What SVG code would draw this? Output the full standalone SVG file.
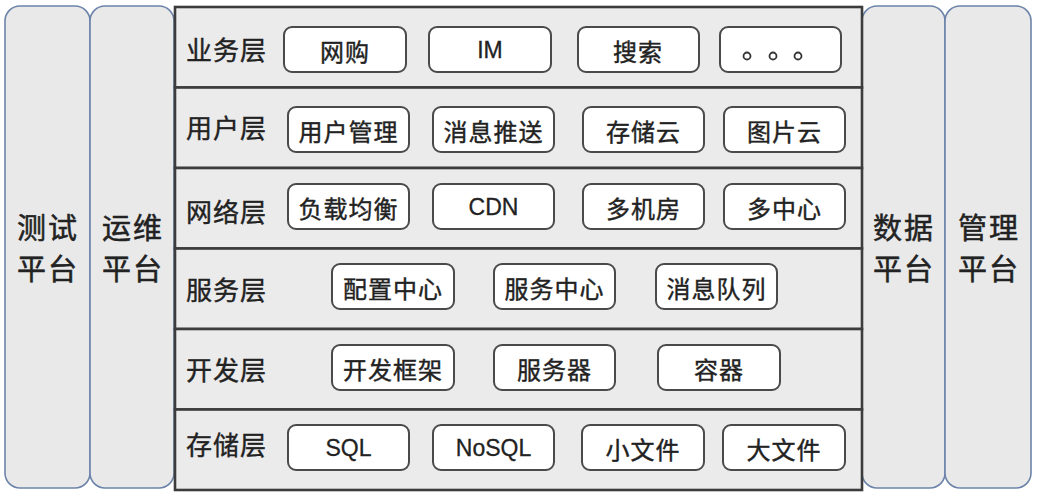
<svg xmlns="http://www.w3.org/2000/svg" width="1038" height="494" viewBox="0 0 1038 494">
<style>
.pillar{fill:#e9e9ea;stroke:#6d84aa;stroke-width:1.6}
.layer{fill:#ebebeb;stroke:#3c3c3c;stroke-width:2.6}
.box{fill:#ffffff;stroke:#4a4a4a;stroke-width:2}
.pt{font-family:"Noto Sans CJK SC","Liberation Sans",sans-serif;font-size:29px;fill:#222;stroke:#222;stroke-width:0.5;text-anchor:middle;letter-spacing:2px}
.lt{font-family:"Noto Sans CJK SC","Liberation Sans",sans-serif;font-size:26px;fill:#222;stroke:#222;stroke-width:0.4;letter-spacing:1px}
.bt{font-family:"Noto Sans CJK SC","Liberation Sans",sans-serif;font-size:24px;fill:#222;stroke:#222;stroke-width:0.4;text-anchor:middle;dominant-baseline:central;letter-spacing:1px}
.et{font-family:"Liberation Sans",sans-serif;font-size:23px;fill:#222;stroke:#222;stroke-width:0.3;text-anchor:middle;dominant-baseline:central}
.dot{fill:none;stroke:#333;stroke-width:1.8}
</style>
<rect width="1038" height="494" fill="#ffffff"/>
<g id="pillar-test"><rect class="pillar" x="5" y="6" width="85" height="482" rx="15"/><text class="pt" x="48" y="239">测试</text><text class="pt" x="48" y="280">平台</text></g>
<g id="pillar-ops"><rect class="pillar" x="90" y="6" width="84" height="482" rx="15"/><text class="pt" x="133" y="239">运维</text><text class="pt" x="133" y="280">平台</text></g>
<g id="pillar-data"><rect class="pillar" x="862" y="6" width="83" height="482" rx="15"/><text class="pt" x="904" y="239">数据</text><text class="pt" x="904" y="280">平台</text></g>
<g id="pillar-mgmt"><rect class="pillar" x="945" y="6" width="86" height="482" rx="15"/><text class="pt" x="989" y="239">管理</text><text class="pt" x="989" y="280">平台</text></g>

<g id="layer-biz">
<rect class="layer" x="175" y="7" width="687" height="80.5"/>
<text class="lt" x="186" y="60">业务层</text>
<rect class="box" x="284" y="27" width="122" height="45" rx="8"/><text class="bt" x="345" y="50">网购</text>
<rect class="box" x="429" y="27" width="122" height="45" rx="8"/><text class="et" x="490" y="50">IM</text>
<rect class="box" x="578" y="27" width="121" height="45" rx="8"/><text class="bt" x="638" y="50">搜索</text>
<rect class="box" x="720" y="27" width="121" height="45" rx="8"/>
<circle class="dot" cx="747" cy="56" r="3.5"/><circle class="dot" cx="773" cy="56" r="3.5"/><circle class="dot" cx="798" cy="56" r="3.5"/>
</g>
<g id="layer-user">
<rect class="layer" x="175" y="87.5" width="687" height="80.5"/>
<text class="lt" x="186" y="138">用户层</text>
<rect class="box" x="288" y="107" width="121" height="45" rx="8"/><text class="bt" x="348.5" y="130">用户管理</text>
<rect class="box" x="433" y="107" width="121" height="45" rx="8"/><text class="bt" x="493.5" y="130">消息推送</text>
<rect class="box" x="583" y="107" width="121" height="45" rx="8"/><text class="bt" x="643.5" y="130">存储云</text>
<rect class="box" x="724" y="107" width="121" height="45" rx="8"/><text class="bt" x="784.5" y="130">图片云</text>
</g>
<g id="layer-net">
<rect class="layer" x="175" y="168" width="687" height="80.5"/>
<text class="lt" x="186" y="222">网络层</text>
<rect class="box" x="288" y="184" width="121" height="45" rx="8"/><text class="bt" x="348.5" y="207">负载均衡</text>
<rect class="box" x="433" y="184" width="121" height="45" rx="8"/><text class="et" x="493.5" y="207">CDN</text>
<rect class="box" x="583" y="184" width="121" height="45" rx="8"/><text class="bt" x="643.5" y="207">多机房</text>
<rect class="box" x="724" y="184" width="121" height="45" rx="8"/><text class="bt" x="784.5" y="207">多中心</text>
</g>
<g id="layer-svc">
<rect class="layer" x="175" y="248.5" width="687" height="80.5"/>
<text class="lt" x="186" y="300">服务层</text>
<rect class="box" x="332" y="264" width="122" height="45" rx="8"/><text class="bt" x="393" y="287">配置中心</text>
<rect class="box" x="494" y="264" width="121" height="45" rx="8"/><text class="bt" x="554.5" y="287">服务中心</text>
<rect class="box" x="656" y="264" width="121" height="45" rx="8"/><text class="bt" x="716.5" y="287">消息队列</text>
</g>
<g id="layer-dev">
<rect class="layer" x="175" y="329" width="687" height="80.5"/>
<text class="lt" x="186" y="380">开发层</text>
<rect class="box" x="332" y="345" width="122" height="45" rx="8"/><text class="bt" x="393" y="368">开发框架</text>
<rect class="box" x="494" y="345" width="121" height="45" rx="8"/><text class="bt" x="554.5" y="368">服务器</text>
<rect class="box" x="658" y="345" width="122" height="45" rx="8"/><text class="bt" x="719" y="368">容器</text>
</g>
<g id="layer-storage">
<rect class="layer" x="175" y="409.5" width="687" height="80.5"/>
<text class="lt" x="186" y="455">存储层</text>
<rect class="box" x="288" y="425" width="121" height="45" rx="8"/><text class="et" x="348.5" y="448">SQL</text>
<rect class="box" x="433" y="425" width="121" height="45" rx="8"/><text class="et" x="493.5" y="448">NoSQL</text>
<rect class="box" x="582" y="425" width="122" height="45" rx="8"/><text class="bt" x="643" y="448">小文件</text>
<rect class="box" x="723" y="425" width="122" height="45" rx="8"/><text class="bt" x="784" y="448">大文件</text>
</g>
<g id="connectors"></g>
</svg>
